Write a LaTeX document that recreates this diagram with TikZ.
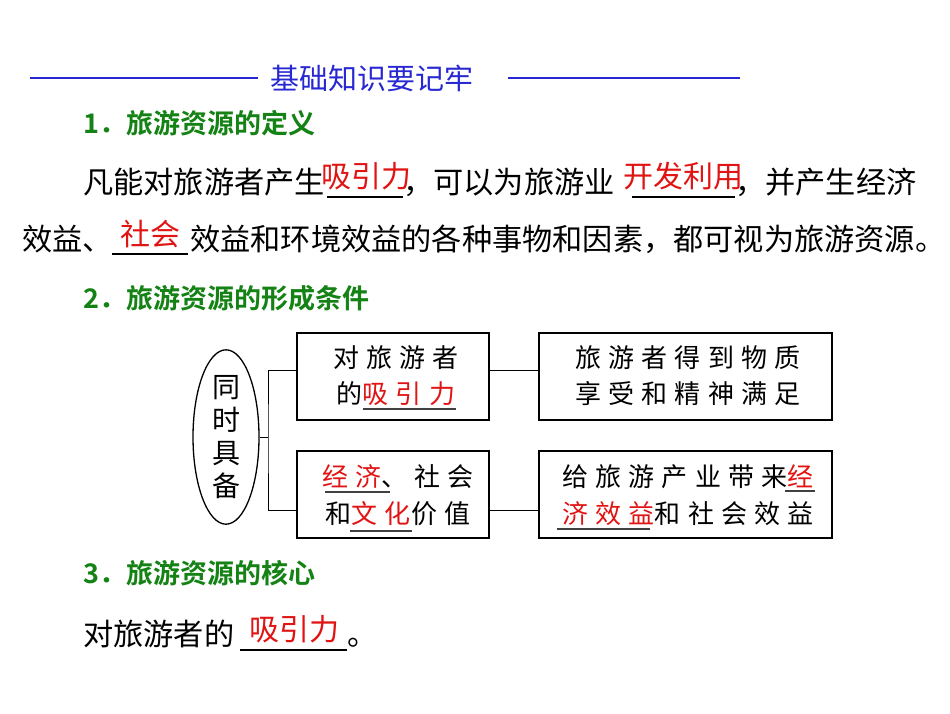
\documentclass[tikz,border=0pt]{standalone}
\usepackage{fontspec}
\usetikzlibrary{shapes.geometric}
\setmainfont{Liberation Serif}
\newfontfamily\cjk{Noto Sans CJK SC}
\newfontfamily\cjkbold{Noto Sans CJK SC Bold}
\newfontfamily\boxf{Noto Sans CJK SC}[LetterSpace=28]
\definecolor{hblue}{RGB}{40,40,210}
\definecolor{hgreen}{RGB}{20,130,20}
\definecolor{ared}{RGB}{225,20,20}
\begin{document}
\begin{tikzpicture}[x=1pt,y=-1pt,
  txt/.style={anchor=base west,inner sep=0pt,font=\cjk\fontsize{30.2}{30}\selectfont},
  ans/.style={anchor=base,inner sep=0pt,text=ared,font=\cjk\fontsize{30}{30}\selectfont},
  head/.style={anchor=base west,inner sep=0pt,text=hgreen,font=\cjkbold\fontsize{27}{27}\selectfont},
  bl/.style={anchor=base,inner sep=0pt,font=\boxf\fontsize{26}{26}\selectfont},
  box/.style={draw,line width=1.3pt},
  ul/.style={line width=1.4pt},
  uls/.style={line width=1.1pt,draw=black!75},
  con/.style={line width=1pt}]
\useasboundingbox (0,0) rectangle (950,713);
% header
\draw[hblue,line width=1.5pt] (30,78) -- (258,78) (508,78) -- (740,78);
\node[anchor=base west,inner sep=0pt,text=hblue,font=\cjk\fontsize{29}{29}\selectfont] (hd) at (270,89) {基础知识要记牢};
% section 1
\node[head] (h1) at (83,133) {1．旅游资源的定义};
\node[txt] (l1a) at (83,193) {凡能对旅游者产生};
\draw[ul] (327,197) -- (403,197);
\node[ans] (a1) at (366,187) {吸引力};
\node[txt] (l1b) at (403,193) {，可以为旅游业};
\draw[ul] (632,197) -- (735,197);
\node[ans] (a2) at (683,187) {开发利用};
\node[txt] (l1c) at (735,193) {，并产生经济};
\node[txt] (l2a) at (22,250) {效益、};
\draw[ul] (112,254) -- (188,254);
\node[ans] (a3) at (150,245) {社会};
\node[txt] (l2b) at (190,250) {效益和环境效益的各种事物和因素，都可视为旅游资源。};
% section 2
\node[head] (h2) at (83,308) {2．旅游资源的形成条件};
\node[draw,ellipse,line width=1.3pt,minimum width=66pt,minimum height=159pt,inner sep=0pt,
  font=\cjk\fontsize{28}{33}\selectfont,align=center] (e) at (226,437) {同\\时\\具\\备};
\draw[box] (297,333) rectangle (489,420);
\draw[box] (297,451) rectangle (489,538);
\draw[box] (539,333) rectangle (832,420);
\draw[box] (539,451) rectangle (832,538);
\coordinate (b1) at (297,370);
\coordinate (b2) at (297,510);
\coordinate (b1r) at (489,370);
\coordinate (b3) at (539,370);
\coordinate (b2r) at (489,510);
\coordinate (b4) at (539,510);
\draw[con] (e.east) -- (268,437);
\draw[con] (b1) -| (268,437) |- (b2);
\draw[con] (b1r) -- (b3);
\draw[con] (b2r) -- (b4);
\node[bl] (t1a) at (396,367) {对旅游者};
\node[bl] (t1b) at (396,403) {的\textcolor{ared}{吸引力}};
\draw[uls] (363,409) -- (456,409);
\node[bl] (t3a) at (688,367) {旅游者得到物质};
\node[bl] (t3b) at (688,403) {享受和精神满足};
\node[bl] (t2a) at (398,486) {\textcolor{ared}{经济}、社会};
\draw[uls] (325,492) -- (390,492);
\node[bl] (t2b) at (398,523) {和\textcolor{ared}{文化}价值};
\draw[uls] (350,531) -- (412,531);
\node[bl] (t4a) at (688,486) {给旅游产业带来\textcolor{ared}{经}};
\draw[uls] (785,491) -- (815,491);
\node[bl] (t4b) at (688,523) {\textcolor{ared}{济效益}和社会效益};
\draw[uls] (557,529) -- (650,529);
% section 3
\node[head] (h3) at (83,583) {3．旅游资源的核心};
\node[txt] (l3a) at (83,645) {对旅游者的};
\draw[ul] (240,650) -- (347,650);
\node[ans] (a4) at (294,640) {吸引力};
\node[txt] (l3b) at (347,645) {。};
\end{tikzpicture}
\end{document}
